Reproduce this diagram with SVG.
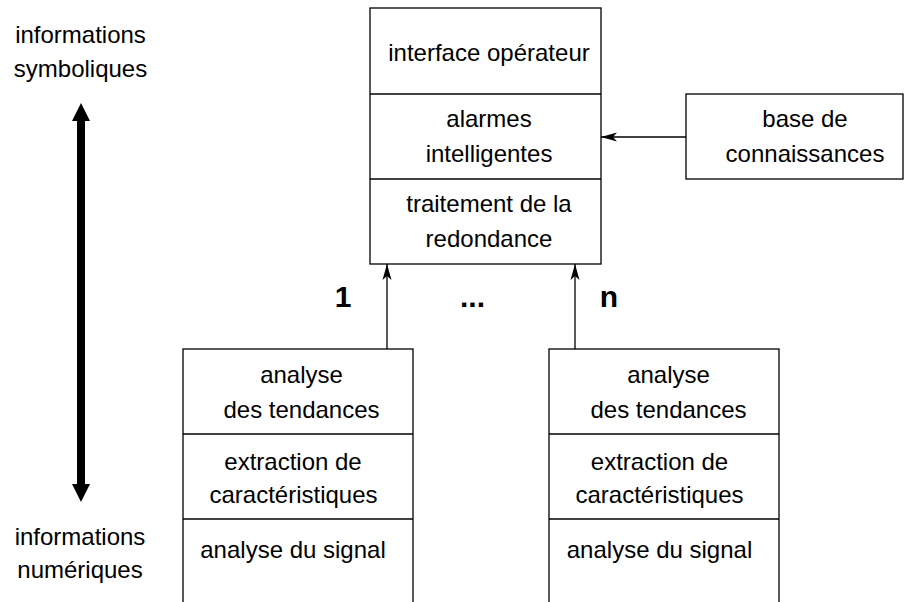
<svg xmlns="http://www.w3.org/2000/svg" width="904" height="602" viewBox="0 0 904 602">
  <style>
    .box { fill: #fff; stroke: #000; stroke-width: 1.3; }
    .div { stroke: #000; stroke-width: 1.3; }
    .t { font-family: "Liberation Sans", Arial, sans-serif; font-size: 24px; fill: #000; text-anchor: middle; }
    .b { font-family: "Liberation Sans", Arial, sans-serif; font-size: 30px; font-weight: bold; fill: #000; text-anchor: middle; }
    .conn { stroke: #000; stroke-width: 1.3; fill: none; marker-end: url(#arr); }
  </style>
  <defs>
    <marker id="arr" markerUnits="userSpaceOnUse" markerWidth="20" markerHeight="12" viewBox="-17 -6 18 12" refX="0" refY="0" orient="auto">
      <path d="M0,0 L-16,-4.5 L-12,0 L-16,4.5 Z" fill="#000"/>
    </marker>
    <marker id="big" markerUnits="userSpaceOnUse" markerWidth="20" markerHeight="20" viewBox="0 -10 20 20" refX="0" refY="0" orient="auto-start-reverse">
      <path d="M0,-9 L18,0 L0,9 Z" fill="#000"/>
    </marker>
  </defs>

  <g id="scale">
    <text class="t" x="80.5" y="43">informations</text>
    <text class="t" x="80.5" y="77">symboliques</text>
    <line x1="81" y1="121" x2="81" y2="484" stroke="#000" stroke-width="8" marker-start="url(#big)" marker-end="url(#big)"/>
    <text class="t" x="80" y="545">informations</text>
    <text class="t" x="80" y="578">numériques</text>
  </g>

  <g id="central">
    <rect class="box" x="370" y="8" width="231" height="256"/>
    <line class="div" x1="370" y1="94" x2="601" y2="94"/>
    <line class="div" x1="370" y1="179" x2="601" y2="179"/>
    <text class="t" x="489" y="61">interface opérateur</text>
    <text class="t" x="489" y="127">alarmes</text>
    <text class="t" x="489" y="162">intelligentes</text>
    <text class="t" x="489" y="212">traitement de la</text>
    <text class="t" x="489" y="247">redondance</text>
  </g>

  <g id="knowledge">
    <rect class="box" x="686" y="94" width="217" height="85"/>
    <text class="t" x="805" y="127">base de</text>
    <text class="t" x="805" y="162">connaissances</text>
  </g>

  <g id="chain1">
    <rect class="box" x="183" y="349" width="230" height="262"/>
    <line class="div" x1="183" y1="434" x2="413" y2="434"/>
    <line class="div" x1="183" y1="519" x2="413" y2="519"/>
    <text class="t" x="301.5" y="383">analyse</text>
    <text class="t" x="301.5" y="418">des tendances</text>
    <text class="t" x="293" y="470">extraction de</text>
    <text class="t" x="293.5" y="503">caractéristiques</text>
    <text class="t" x="293" y="558">analyse du signal</text>
  </g>

  <g id="chainN">
    <rect class="box" x="549" y="349" width="230" height="262"/>
    <line class="div" x1="549" y1="434" x2="779" y2="434"/>
    <line class="div" x1="549" y1="519" x2="779" y2="519"/>
    <text class="t" x="668.5" y="383">analyse</text>
    <text class="t" x="668.5" y="418">des tendances</text>
    <text class="t" x="659.5" y="470">extraction de</text>
    <text class="t" x="659.5" y="503">caractéristiques</text>
    <text class="t" x="659.5" y="558">analyse du signal</text>
  </g>

  <g id="labels">
    <text class="b" x="343" y="307">1</text>
    <text class="b" x="472.5" y="307">...</text>
    <text class="b" x="609" y="307">n</text>
  </g>

  <g id="connectors">
    <line class="conn" x1="387" y1="349" x2="387" y2="264"/>
    <line class="conn" x1="575" y1="349" x2="575" y2="264"/>
    <line class="conn" x1="686" y1="137" x2="601" y2="137"/>
  </g>
</svg>
